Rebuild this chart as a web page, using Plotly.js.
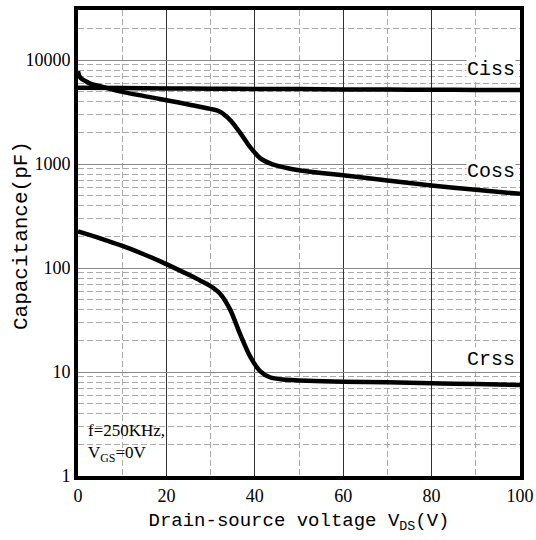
<!DOCTYPE html>
<html>
<head>
<meta charset="utf-8">
<script src="https://cdn.plot.ly/plotly-3.0.1.min.js"></script>
<style>html,body{margin:0;padding:0;background:#fff;}#chart{width:536px;height:540px;}</style>
</head>
<body>
<div id="chart"></div>
<script>
// Data
const vdsCiss = [0, 10, 20, 30, 40, 50, 60, 70, 80, 90, 100];
const ciss    = [5400, 5370, 5330, 5300, 5270, 5250, 5220, 5200, 5180, 5160, 5150];

const vdsCoss = [0, 0.3, 0.8, 1.6, 2.5, 3.5, 5, 7, 10, 15, 20, 25, 30, 32, 34.4, 36.7, 38.9, 41.2, 44, 47, 50, 55, 60, 70, 80, 90, 100];
const coss    = [7800, 7000, 6600, 6300, 6000, 5800, 5610, 5300, 4940, 4500, 4110, 3740, 3390, 3200, 2660, 1990, 1460, 1140, 990, 920, 870, 820, 780, 695, 622, 566, 517];

const vdsCrss = [0, 5, 9.9, 15, 20, 25.3, 27.6, 30, 32.1, 34.4, 36.7, 38.9, 41.2, 43.4, 46.4, 50, 60, 70, 80, 90, 100];
const crss    = [225, 193, 164, 135, 109, 85, 76, 67, 57, 40, 23, 14.2, 10.2, 8.9, 8.45, 8.3, 8.06, 7.95, 7.8, 7.65, 7.5];

const xTickVals = [0, 20, 40, 60, 80, 100];
const xMinorVals = [10, 30, 50, 70, 90];
const yTickVals = [1, 10, 100, 1000, 10000];
const yTickText = ['1', '10', '100', '1000', '10000'];
const yMinorVals = [2,3,4,5,6,7,8,9,20,30,40,50,60,70,80,90,200,300,400,500,600,700,800,900,2000,3000,4000,5000,6000,7000,8000,9000,20000];

const seriesNames = ['Ciss', 'Coss', 'Crss'];
const xTitle = 'Drain-source voltage V<sub>DS</sub>(V)';
const yTitle = 'Capacitance(pF)';
const noteText = 'f=250KHz,<br>V<sub>GS</sub>=0V';

const lineStyle = {color: '#000', width: 4.5, shape: 'spline', smoothing: 0.8};
const traces = [
  {x: vdsCiss, y: ciss, mode: 'lines', line: lineStyle, name: seriesNames[0]},
  {x: vdsCoss, y: coss, mode: 'lines', line: lineStyle, name: seriesNames[1]},
  {x: vdsCrss, y: crss, mode: 'lines', line: lineStyle, name: seriesNames[2]}
];

const tickFont = {family: 'Liberation Serif, serif', size: 18, color: '#000'};
const titleFont = {family: 'Liberation Mono, monospace', size: 19, color: '#000'};
const labelFont = {family: 'Liberation Mono, monospace', size: 20, color: '#000'};

const layout = {
  width: 536, height: 540,
  margin: {l: 78, r: 16, t: 10, b: 64, pad: 0},
  paper_bgcolor: '#fff', plot_bgcolor: '#fff',
  showlegend: false,
  xaxis: {
    range: [0, 100],
    tickmode: 'array', tickvals: xTickVals,
    showgrid: true, gridcolor: '#333', gridwidth: 1,
    minor: {tickmode: 'array', tickvals: xMinorVals, showgrid: true, gridcolor: '#aaa', gridwidth: 1, griddash: '6px,3px', ticks: ''},
    showline: true, linecolor: '#000', linewidth: 4, mirror: true,
    zeroline: false, ticks: '',
    tickfont: tickFont,
    title: {text: xTitle, font: titleFont, standoff: 9}
  },
  yaxis: {
    type: 'log',
    range: [0, 4.481],
    tickmode: 'array', tickvals: yTickVals, ticktext: yTickText,
    showgrid: true, gridcolor: '#888', gridwidth: 1,
    minor: {tickmode: 'array', tickvals: yMinorVals, showgrid: true, gridcolor: '#aaa', gridwidth: 1, griddash: '6px,3px', ticks: ''},
    showline: true, linecolor: '#000', linewidth: 4, mirror: true,
    zeroline: false, ticks: '',
    tickfont: tickFont
  },
  shapes: [
    {type: 'rect', layer: 'between', xref: 'x', yref: 'paper', x0: 0, x1: 21, y0: 0.011, y1: 0.135,
     fillcolor: '#fff', line: {width: 0}}
  ],
  annotations: [
    {text: yTitle, xref: 'paper', yref: 'paper', x: -0.129, y: 0.517, xanchor: 'center', yanchor: 'middle', textangle: -90,
     showarrow: false, font: {family: 'Liberation Mono, monospace', size: 21, color: '#000'}},
    {text: seriesNames[0], xref: 'x', yref: 'paper', x: 100, y: 0.873, xanchor: 'right', yanchor: 'middle', xshift: -4,
     showarrow: false, bgcolor: '#fff', borderpad: 0, font: labelFont},
    {text: seriesNames[1], xref: 'x', yref: 'paper', x: 100, y: 0.6545, xanchor: 'right', yanchor: 'middle', xshift: -4,
     showarrow: false, bgcolor: '#fff', borderpad: 0, font: labelFont},
    {text: seriesNames[2], xref: 'x', yref: 'paper', x: 100, y: 0.249, xanchor: 'right', yanchor: 'middle', xshift: -4,
     showarrow: false, bgcolor: '#fff', borderpad: 0, font: labelFont},
    {text: noteText, xref: 'x', yref: 'paper', x: 0, y: 0.07, xanchor: 'left', yanchor: 'middle', xshift: 8,
     align: 'left', showarrow: false, font: {family: 'Liberation Serif, serif', size: 17, color: '#000'}}
  ]
};

Plotly.newPlot('chart', traces, layout, {displayModeBar: false, staticPlot: true});
</script>
</body>
</html>
